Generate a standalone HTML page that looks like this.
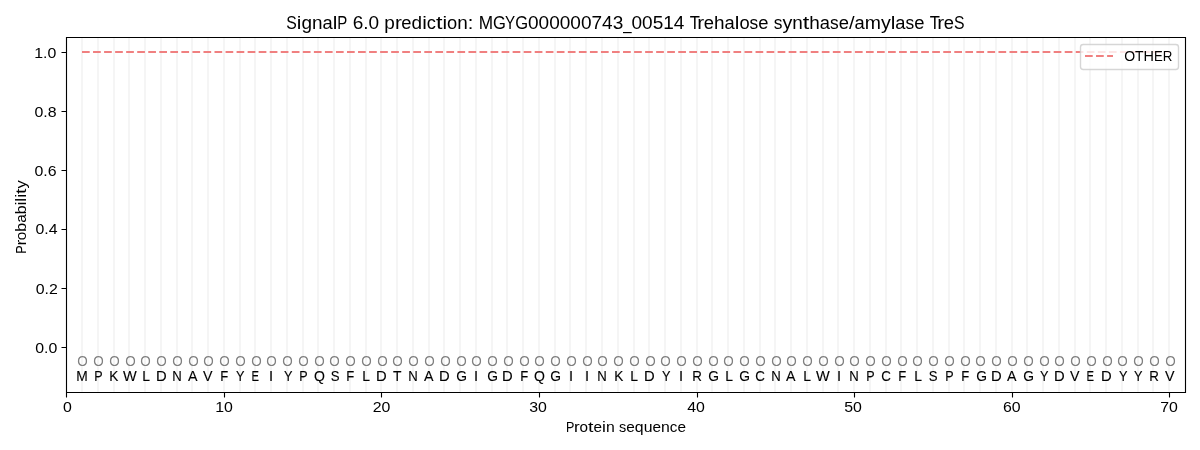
<!DOCTYPE html>
<html><head><meta charset="utf-8"><title>SignalP 6.0 prediction</title>
<style>
html,body{margin:0;padding:0;background:#fff;width:1200px;height:450px;overflow:hidden}
svg{display:block;font-family:"Liberation Sans",sans-serif;will-change:transform}
</style></head>
<body><svg width="1200" height="450" viewBox="0 0 1200 450">
<rect width="1200" height="450" fill="#fff"/>
<path d="M82 37.33V391.72M98 37.33V391.72M114 37.33V391.72M129 37.33V391.72M145 37.33V391.72M161 37.33V391.72M177 37.33V391.72M192 37.33V391.72M208 37.33V391.72M224 37.33V391.72M240 37.33V391.72M255 37.33V391.72M271 37.33V391.72M287 37.33V391.72M303 37.33V391.72M318 37.33V391.72M334 37.33V391.72M350 37.33V391.72M366 37.33V391.72M381 37.33V391.72M397 37.33V391.72M413 37.33V391.72M429 37.33V391.72M444 37.33V391.72M460 37.33V391.72M476 37.33V391.72M492 37.33V391.72M507 37.33V391.72M523 37.33V391.72M539 37.33V391.72M555 37.33V391.72M570 37.33V391.72M586 37.33V391.72M602 37.33V391.72M618 37.33V391.72M634 37.33V391.72M649 37.33V391.72M665 37.33V391.72M681 37.33V391.72M697 37.33V391.72M712 37.33V391.72M728 37.33V391.72M744 37.33V391.72M760 37.33V391.72M775 37.33V391.72M791 37.33V391.72M807 37.33V391.72M823 37.33V391.72M838 37.33V391.72M854 37.33V391.72M870 37.33V391.72M886 37.33V391.72M901 37.33V391.72M917 37.33V391.72M933 37.33V391.72M949 37.33V391.72M964 37.33V391.72M980 37.33V391.72M996 37.33V391.72M1012 37.33V391.72M1027 37.33V391.72M1043 37.33V391.72M1059 37.33V391.72M1075 37.33V391.72M1090 37.33V391.72M1106 37.33V391.72M1122 37.33V391.72M1138 37.33V391.72M1153 37.33V391.72M1169 37.33V391.72" stroke="#f5f5f5" stroke-width="2.0833" fill="none"/>
<path d="M82 52H1169.24" stroke="#f08080" stroke-width="2.0833" stroke-dasharray="7.7083 3.3333" fill="none"/>
<path d="M61.5 52.5H66.5M61.5 111.5H66.5M61.5 170.5H66.5M61.5 229.5H66.5M61.5 288.5H66.5M61.5 347.5H66.5M66.5 392.5V397.5M224.5 392.5V397.5M381.5 392.5V397.5M539.5 392.5V397.5M697.5 392.5V397.5M854.5 392.5V397.5M1012.5 392.5V397.5M1169.5 392.5V397.5" stroke="#000" stroke-width="1.1111" fill="none"/>
<path d="M65.944 36.944H1186.056V393.056H65.944ZM67.056 38.056V391.944H1184.944V38.056Z" fill="#000" fill-rule="evenodd"/>
<rect x="1080.5" y="44.5" width="98" height="25" rx="2.78" ry="2.78" fill="#fff" fill-opacity="0.8" stroke="#ccc" stroke-opacity="0.8" stroke-width="1.3889"/>
<path d="M1085 56H1113" stroke="#f08080" stroke-width="2.0833" stroke-dasharray="7.7083 3.3333" fill="none"/>
<g font-size="17.5" fill="#000"><text x="291.541" y="29" text-anchor="middle" textLength="10.553" lengthAdjust="spacingAndGlyphs">S</text><text x="299.127" y="29" text-anchor="middle" textLength="4.619" lengthAdjust="spacingAndGlyphs">i</text><text x="306.713" y="29" text-anchor="middle" textLength="10.553" lengthAdjust="spacingAndGlyphs">g</text><text x="317.258" y="29" text-anchor="middle" textLength="10.537" lengthAdjust="spacingAndGlyphs">n</text><text x="327.62" y="29" text-anchor="middle" textLength="10.188" lengthAdjust="spacingAndGlyphs">a</text><text x="335.024" y="29" text-anchor="middle" textLength="4.619" lengthAdjust="spacingAndGlyphs">l</text><text x="342.346" y="29" text-anchor="middle" textLength="10.025" lengthAdjust="spacingAndGlyphs">P</text><text x="357.932" y="29" text-anchor="middle" textLength="10.577" lengthAdjust="spacingAndGlyphs">6</text><text x="365.863" y="29" text-anchor="middle" textLength="5.285" lengthAdjust="spacingAndGlyphs">.</text><text x="373.794" y="29" text-anchor="middle" textLength="10.577" lengthAdjust="spacingAndGlyphs">0</text><text x="389.644" y="29" text-anchor="middle" textLength="10.553" lengthAdjust="spacingAndGlyphs">p</text><text x="398.338" y="29" text-anchor="middle" textLength="6.835" lengthAdjust="spacingAndGlyphs">r</text><text x="406.494" y="29" text-anchor="middle" textLength="10.228" lengthAdjust="spacingAndGlyphs">e</text><text x="416.885" y="29" text-anchor="middle" textLength="10.553" lengthAdjust="spacingAndGlyphs">d</text><text x="424.471" y="29" text-anchor="middle" textLength="4.619" lengthAdjust="spacingAndGlyphs">i</text><text x="431.351" y="29" text-anchor="middle" textLength="9.141" lengthAdjust="spacingAndGlyphs">c</text><text x="439.18" y="29" text-anchor="middle" textLength="6.518" lengthAdjust="spacingAndGlyphs">t</text><text x="444.749" y="29" text-anchor="middle" textLength="4.619" lengthAdjust="spacingAndGlyphs">i</text><text x="452.144" y="29" text-anchor="middle" textLength="10.171" lengthAdjust="spacingAndGlyphs">o</text><text x="462.498" y="29" text-anchor="middle" textLength="10.537" lengthAdjust="spacingAndGlyphs">n</text><text x="470.567" y="29" text-anchor="middle" textLength="5.601" lengthAdjust="spacingAndGlyphs">:</text><text x="485.824" y="29" text-anchor="middle" textLength="14.344" lengthAdjust="spacingAndGlyphs">M</text><text x="499.438" y="29" text-anchor="middle" textLength="12.883" lengthAdjust="spacingAndGlyphs">G</text><text x="510.082" y="29" text-anchor="middle" textLength="10.155" lengthAdjust="spacingAndGlyphs">Y</text><text x="521.601" y="29" text-anchor="middle" textLength="12.883" lengthAdjust="spacingAndGlyphs">G</text><text x="533.331" y="29" text-anchor="middle" textLength="10.577" lengthAdjust="spacingAndGlyphs">0</text><text x="543.908" y="29" text-anchor="middle" textLength="10.577" lengthAdjust="spacingAndGlyphs">0</text><text x="554.485" y="29" text-anchor="middle" textLength="10.577" lengthAdjust="spacingAndGlyphs">0</text><text x="565.063" y="29" text-anchor="middle" textLength="10.577" lengthAdjust="spacingAndGlyphs">0</text><text x="575.64" y="29" text-anchor="middle" textLength="10.577" lengthAdjust="spacingAndGlyphs">0</text><text x="586.217" y="29" text-anchor="middle" textLength="10.577" lengthAdjust="spacingAndGlyphs">0</text><text x="596.795" y="29" text-anchor="middle" textLength="10.577" lengthAdjust="spacingAndGlyphs">7</text><text x="607.372" y="29" text-anchor="middle" textLength="10.577" lengthAdjust="spacingAndGlyphs">4</text><text x="617.949" y="29" text-anchor="middle" textLength="10.577" lengthAdjust="spacingAndGlyphs">3</text><text x="627.394" y="29" text-anchor="middle" textLength="8.312" lengthAdjust="spacingAndGlyphs">_</text><text x="636.839" y="29" text-anchor="middle" textLength="10.577" lengthAdjust="spacingAndGlyphs">0</text><text x="647.416" y="29" text-anchor="middle" textLength="10.577" lengthAdjust="spacingAndGlyphs">0</text><text x="657.994" y="29" text-anchor="middle" textLength="10.577" lengthAdjust="spacingAndGlyphs">5</text><text x="668.571" y="29" text-anchor="middle" textLength="10.577" lengthAdjust="spacingAndGlyphs">1</text><text x="679.148" y="29" text-anchor="middle" textLength="10.577" lengthAdjust="spacingAndGlyphs">4</text><text x="694.799" y="29" text-anchor="middle" textLength="10.155" lengthAdjust="spacingAndGlyphs">T</text><text x="700.794" y="29" text-anchor="middle" textLength="6.835" lengthAdjust="spacingAndGlyphs">r</text><text x="708.951" y="29" text-anchor="middle" textLength="10.228" lengthAdjust="spacingAndGlyphs">e</text><text x="719.334" y="29" text-anchor="middle" textLength="10.537" lengthAdjust="spacingAndGlyphs">h</text><text x="729.696" y="29" text-anchor="middle" textLength="10.188" lengthAdjust="spacingAndGlyphs">a</text><text x="737.099" y="29" text-anchor="middle" textLength="4.619" lengthAdjust="spacingAndGlyphs">l</text><text x="744.494" y="29" text-anchor="middle" textLength="10.171" lengthAdjust="spacingAndGlyphs">o</text><text x="753.911" y="29" text-anchor="middle" textLength="8.662" lengthAdjust="spacingAndGlyphs">s</text><text x="763.356" y="29" text-anchor="middle" textLength="10.228" lengthAdjust="spacingAndGlyphs">e</text><text x="778.085" y="29" text-anchor="middle" textLength="8.662" lengthAdjust="spacingAndGlyphs">s</text><text x="787.335" y="29" text-anchor="middle" textLength="9.839" lengthAdjust="spacingAndGlyphs">y</text><text x="797.523" y="29" text-anchor="middle" textLength="10.537" lengthAdjust="spacingAndGlyphs">n</text><text x="806.051" y="29" text-anchor="middle" textLength="6.518" lengthAdjust="spacingAndGlyphs">t</text><text x="814.578" y="29" text-anchor="middle" textLength="10.537" lengthAdjust="spacingAndGlyphs">h</text><text x="824.941" y="29" text-anchor="middle" textLength="10.188" lengthAdjust="spacingAndGlyphs">a</text><text x="834.365" y="29" text-anchor="middle" textLength="8.662" lengthAdjust="spacingAndGlyphs">s</text><text x="843.81" y="29" text-anchor="middle" textLength="10.228" lengthAdjust="spacingAndGlyphs">e</text><text x="851.725" y="29" text-anchor="middle" textLength="5.601" lengthAdjust="spacingAndGlyphs">/</text><text x="859.619" y="29" text-anchor="middle" textLength="10.188" lengthAdjust="spacingAndGlyphs">a</text><text x="872.811" y="29" text-anchor="middle" textLength="16.195" lengthAdjust="spacingAndGlyphs">m</text><text x="885.827" y="29" text-anchor="middle" textLength="9.839" lengthAdjust="spacingAndGlyphs">y</text><text x="893.056" y="29" text-anchor="middle" textLength="4.619" lengthAdjust="spacingAndGlyphs">l</text><text x="900.459" y="29" text-anchor="middle" textLength="10.188" lengthAdjust="spacingAndGlyphs">a</text><text x="909.884" y="29" text-anchor="middle" textLength="8.662" lengthAdjust="spacingAndGlyphs">s</text><text x="919.329" y="29" text-anchor="middle" textLength="10.228" lengthAdjust="spacingAndGlyphs">e</text><text x="934.805" y="29" text-anchor="middle" textLength="10.155" lengthAdjust="spacingAndGlyphs">T</text><text x="940.8" y="29" text-anchor="middle" textLength="6.835" lengthAdjust="spacingAndGlyphs">r</text><text x="948.957" y="29" text-anchor="middle" textLength="10.228" lengthAdjust="spacingAndGlyphs">e</text><text x="959.348" y="29" text-anchor="middle" textLength="10.553" lengthAdjust="spacingAndGlyphs">S</text></g>
<g transform="translate(26 253.72) rotate(-90)" font-size="14.2" fill="#000"><text x="4.184" y="0" text-anchor="middle" textLength="8.367" lengthAdjust="spacingAndGlyphs">P</text><text x="10.969" y="0" text-anchor="middle" textLength="5.704" lengthAdjust="spacingAndGlyphs">r</text><text x="17.816" y="0" text-anchor="middle" textLength="8.489" lengthAdjust="spacingAndGlyphs">o</text><text x="26.464" y="0" text-anchor="middle" textLength="8.807" lengthAdjust="spacingAndGlyphs">b</text><text x="35.119" y="0" text-anchor="middle" textLength="8.503" lengthAdjust="spacingAndGlyphs">a</text><text x="43.774" y="0" text-anchor="middle" textLength="8.807" lengthAdjust="spacingAndGlyphs">b</text><text x="50.105" y="0" text-anchor="middle" textLength="3.855" lengthAdjust="spacingAndGlyphs">i</text><text x="53.96" y="0" text-anchor="middle" textLength="3.855" lengthAdjust="spacingAndGlyphs">l</text><text x="57.815" y="0" text-anchor="middle" textLength="3.855" lengthAdjust="spacingAndGlyphs">i</text><text x="62.463" y="0" text-anchor="middle" textLength="5.44" lengthAdjust="spacingAndGlyphs">t</text><text x="69.288" y="0" text-anchor="middle" textLength="8.211" lengthAdjust="spacingAndGlyphs">y</text></g>
<g font-size="14.2" fill="#000"><text x="570.194" y="432" text-anchor="middle" textLength="8.367" lengthAdjust="spacingAndGlyphs">P</text><text x="576.979" y="432" text-anchor="middle" textLength="5.704" lengthAdjust="spacingAndGlyphs">r</text><text x="583.826" y="432" text-anchor="middle" textLength="8.489" lengthAdjust="spacingAndGlyphs">o</text><text x="590.791" y="432" text-anchor="middle" textLength="5.44" lengthAdjust="spacingAndGlyphs">t</text><text x="597.779" y="432" text-anchor="middle" textLength="8.536" lengthAdjust="spacingAndGlyphs">e</text><text x="603.975" y="432" text-anchor="middle" textLength="3.855" lengthAdjust="spacingAndGlyphs">i</text><text x="610.299" y="432" text-anchor="middle" textLength="8.794" lengthAdjust="spacingAndGlyphs">n</text><text x="622.721" y="432" text-anchor="middle" textLength="7.229" lengthAdjust="spacingAndGlyphs">s</text><text x="630.603" y="432" text-anchor="middle" textLength="8.536" lengthAdjust="spacingAndGlyphs">e</text><text x="639.275" y="432" text-anchor="middle" textLength="8.807" lengthAdjust="spacingAndGlyphs">q</text><text x="648.076" y="432" text-anchor="middle" textLength="8.794" lengthAdjust="spacingAndGlyphs">u</text><text x="656.741" y="432" text-anchor="middle" textLength="8.536" lengthAdjust="spacingAndGlyphs">e</text><text x="665.406" y="432" text-anchor="middle" textLength="8.794" lengthAdjust="spacingAndGlyphs">n</text><text x="673.617" y="432" text-anchor="middle" textLength="7.629" lengthAdjust="spacingAndGlyphs">c</text><text x="681.7" y="432" text-anchor="middle" textLength="8.536" lengthAdjust="spacingAndGlyphs">e</text></g>
<g font-size="14.2" fill="#000"><text x="39.594" y="353" text-anchor="middle" textLength="8.828" lengthAdjust="spacingAndGlyphs">0</text><text x="46.213" y="353" text-anchor="middle" textLength="4.41" lengthAdjust="spacingAndGlyphs">.</text><text x="52.832" y="353" text-anchor="middle" textLength="8.828" lengthAdjust="spacingAndGlyphs">0</text></g>
<g font-size="14.2" fill="#000"><text x="40.094" y="294" text-anchor="middle" textLength="8.828" lengthAdjust="spacingAndGlyphs">0</text><text x="46.713" y="294" text-anchor="middle" textLength="4.41" lengthAdjust="spacingAndGlyphs">.</text><text x="53.332" y="294" text-anchor="middle" textLength="8.828" lengthAdjust="spacingAndGlyphs">2</text></g>
<g font-size="14.2" fill="#000"><text x="39.844" y="234" text-anchor="middle" textLength="8.828" lengthAdjust="spacingAndGlyphs">0</text><text x="46.463" y="234" text-anchor="middle" textLength="4.41" lengthAdjust="spacingAndGlyphs">.</text><text x="53.082" y="234" text-anchor="middle" textLength="8.828" lengthAdjust="spacingAndGlyphs">4</text></g>
<g font-size="14.2" fill="#000"><text x="38.849" y="176" text-anchor="middle" textLength="8.828" lengthAdjust="spacingAndGlyphs">0</text><text x="45.468" y="176" text-anchor="middle" textLength="4.41" lengthAdjust="spacingAndGlyphs">.</text><text x="52.087" y="176" text-anchor="middle" textLength="8.828" lengthAdjust="spacingAndGlyphs">6</text></g>
<g font-size="14.2" fill="#000"><text x="38.849" y="117" text-anchor="middle" textLength="8.828" lengthAdjust="spacingAndGlyphs">0</text><text x="45.468" y="117" text-anchor="middle" textLength="4.41" lengthAdjust="spacingAndGlyphs">.</text><text x="52.087" y="117" text-anchor="middle" textLength="8.828" lengthAdjust="spacingAndGlyphs">8</text></g>
<g font-size="14.2" fill="#000"><text x="38.599" y="58" text-anchor="middle" textLength="8.828" lengthAdjust="spacingAndGlyphs">1</text><text x="45.218" y="58" text-anchor="middle" textLength="4.41" lengthAdjust="spacingAndGlyphs">.</text><text x="51.837" y="58" text-anchor="middle" textLength="8.828" lengthAdjust="spacingAndGlyphs">0</text></g>
<g font-size="14.2" fill="#000"><text x="67.314" y="412" text-anchor="middle" textLength="8.828" lengthAdjust="spacingAndGlyphs">0</text></g>
<g font-size="14.2" fill="#000"><text x="219.569" y="412" text-anchor="middle" textLength="8.828" lengthAdjust="spacingAndGlyphs">1</text><text x="228.397" y="412" text-anchor="middle" textLength="8.828" lengthAdjust="spacingAndGlyphs">0</text></g>
<g font-size="14.2" fill="#000"><text x="377.074" y="412" text-anchor="middle" textLength="8.828" lengthAdjust="spacingAndGlyphs">2</text><text x="385.902" y="412" text-anchor="middle" textLength="8.828" lengthAdjust="spacingAndGlyphs">0</text></g>
<g font-size="14.2" fill="#000"><text x="533.644" y="412" text-anchor="middle" textLength="8.828" lengthAdjust="spacingAndGlyphs">3</text><text x="542.472" y="412" text-anchor="middle" textLength="8.828" lengthAdjust="spacingAndGlyphs">0</text></g>
<g font-size="14.2" fill="#000"><text x="691.579" y="412" text-anchor="middle" textLength="8.828" lengthAdjust="spacingAndGlyphs">4</text><text x="700.407" y="412" text-anchor="middle" textLength="8.828" lengthAdjust="spacingAndGlyphs">0</text></g>
<g font-size="14.2" fill="#000"><text x="848.649" y="412" text-anchor="middle" textLength="8.828" lengthAdjust="spacingAndGlyphs">5</text><text x="857.477" y="412" text-anchor="middle" textLength="8.828" lengthAdjust="spacingAndGlyphs">0</text></g>
<g font-size="14.2" fill="#000"><text x="1007.399" y="412" text-anchor="middle" textLength="8.828" lengthAdjust="spacingAndGlyphs">6</text><text x="1016.227" y="412" text-anchor="middle" textLength="8.828" lengthAdjust="spacingAndGlyphs">0</text></g>
<g font-size="14.2" fill="#000"><text x="1164.654" y="412" text-anchor="middle" textLength="8.828" lengthAdjust="spacingAndGlyphs">7</text><text x="1173.482" y="412" text-anchor="middle" textLength="8.828" lengthAdjust="spacingAndGlyphs">0</text></g>
<g font-size="14.2" fill="#000"><text x="1129.591" y="61" text-anchor="middle" textLength="10.921" lengthAdjust="spacingAndGlyphs">O</text><text x="1139.289" y="61" text-anchor="middle" textLength="8.475" lengthAdjust="spacingAndGlyphs">T</text><text x="1148.743" y="61" text-anchor="middle" textLength="10.433" lengthAdjust="spacingAndGlyphs">H</text><text x="1158.343" y="61" text-anchor="middle" textLength="8.767" lengthAdjust="spacingAndGlyphs">E</text><text x="1167.547" y="61" text-anchor="middle" textLength="9.641" lengthAdjust="spacingAndGlyphs">R</text></g>
<text x="82.047" y="381" text-anchor="middle" font-size="14.2" fill="#000" textLength="11.5" lengthAdjust="spacingAndGlyphs" stroke="#000" stroke-width="0.12">M</text>
<text x="82.407" y="366" text-anchor="middle" font-size="14.2" fill="#808080" textLength="10.5" lengthAdjust="spacingAndGlyphs">O</text>
<text x="98.415" y="381" text-anchor="middle" font-size="14.2" fill="#000" textLength="8.367" lengthAdjust="spacingAndGlyphs" stroke="#000" stroke-width="0.12">P</text>
<text x="98.407" y="366" text-anchor="middle" font-size="14.2" fill="#808080" textLength="10.5" lengthAdjust="spacingAndGlyphs">O</text>
<text x="113.675" y="381" text-anchor="middle" font-size="14.2" fill="#000" textLength="9.099" lengthAdjust="spacingAndGlyphs" stroke="#000" stroke-width="0.12">K</text>
<text x="114.407" y="366" text-anchor="middle" font-size="14.2" fill="#808080" textLength="10.5" lengthAdjust="spacingAndGlyphs">O</text>
<text x="129.805" y="381" text-anchor="middle" font-size="14.2" fill="#000" textLength="13.719" lengthAdjust="spacingAndGlyphs" stroke="#000" stroke-width="0.12">W</text>
<text x="130.407" y="366" text-anchor="middle" font-size="14.2" fill="#808080" textLength="10.5" lengthAdjust="spacingAndGlyphs">O</text>
<text x="146.065" y="381" text-anchor="middle" font-size="14.2" fill="#000" textLength="7.73" lengthAdjust="spacingAndGlyphs" stroke="#000" stroke-width="0.12">L</text>
<text x="145.407" y="366" text-anchor="middle" font-size="14.2" fill="#808080" textLength="10.5" lengthAdjust="spacingAndGlyphs">O</text>
<text x="161.315" y="381" text-anchor="middle" font-size="14.2" fill="#000" textLength="10.684" lengthAdjust="spacingAndGlyphs" stroke="#000" stroke-width="0.12">D</text>
<text x="161.407" y="366" text-anchor="middle" font-size="14.2" fill="#808080" textLength="10.5" lengthAdjust="spacingAndGlyphs">O</text>
<text x="177.122" y="381" text-anchor="middle" font-size="14.2" fill="#000" textLength="9.5" lengthAdjust="spacingAndGlyphs" stroke="#000" stroke-width="0.12">N</text>
<text x="177.407" y="366" text-anchor="middle" font-size="14.2" fill="#808080" textLength="10.5" lengthAdjust="spacingAndGlyphs">O</text>
<text x="192.705" y="381" text-anchor="middle" font-size="14.2" fill="#000" textLength="9.492" lengthAdjust="spacingAndGlyphs" stroke="#000" stroke-width="0.12">A</text>
<text x="193.407" y="366" text-anchor="middle" font-size="14.2" fill="#808080" textLength="10.5" lengthAdjust="spacingAndGlyphs">O</text>
<text x="207.715" y="381" text-anchor="middle" font-size="14.2" fill="#000" textLength="9.492" lengthAdjust="spacingAndGlyphs" stroke="#000" stroke-width="0.12">V</text>
<text x="208.407" y="366" text-anchor="middle" font-size="14.2" fill="#808080" textLength="10.5" lengthAdjust="spacingAndGlyphs">O</text>
<text x="224.215" y="381" text-anchor="middle" font-size="14.2" fill="#000" textLength="7.981" lengthAdjust="spacingAndGlyphs" stroke="#000" stroke-width="0.12">F</text>
<text x="224.407" y="366" text-anchor="middle" font-size="14.2" fill="#808080" textLength="10.5" lengthAdjust="spacingAndGlyphs">O</text>
<text x="240.225" y="381" text-anchor="middle" font-size="14.2" fill="#000" textLength="8.475" lengthAdjust="spacingAndGlyphs" stroke="#000" stroke-width="0.12">Y</text>
<text x="240.407" y="366" text-anchor="middle" font-size="14.2" fill="#808080" textLength="10.5" lengthAdjust="spacingAndGlyphs">O</text>
<text x="255.229" y="381" text-anchor="middle" font-size="14.2" fill="#000" textLength="7.5" lengthAdjust="spacingAndGlyphs" stroke="#000" stroke-width="0.12">E</text>
<text x="256.407" y="366" text-anchor="middle" font-size="14.2" fill="#808080" textLength="10.5" lengthAdjust="spacingAndGlyphs">O</text>
<text x="270.985" y="381" text-anchor="middle" font-size="14.2" fill="#000" textLength="4.092" lengthAdjust="spacingAndGlyphs" stroke="#000" stroke-width="0.12">I</text>
<text x="271.407" y="366" text-anchor="middle" font-size="14.2" fill="#808080" textLength="10.5" lengthAdjust="spacingAndGlyphs">O</text>
<text x="288.12" y="381" text-anchor="middle" font-size="14.2" fill="#000" textLength="8.475" lengthAdjust="spacingAndGlyphs" stroke="#000" stroke-width="0.12">Y</text>
<text x="287.407" y="366" text-anchor="middle" font-size="14.2" fill="#808080" textLength="10.5" lengthAdjust="spacingAndGlyphs">O</text>
<text x="303.38" y="381" text-anchor="middle" font-size="14.2" fill="#000" textLength="8.367" lengthAdjust="spacingAndGlyphs" stroke="#000" stroke-width="0.12">P</text>
<text x="303.407" y="366" text-anchor="middle" font-size="14.2" fill="#808080" textLength="10.5" lengthAdjust="spacingAndGlyphs">O</text>
<text x="319.385" y="381" text-anchor="middle" font-size="14.2" fill="#000" textLength="10.921" lengthAdjust="spacingAndGlyphs" stroke="#000" stroke-width="0.12">Q</text>
<text x="319.407" y="366" text-anchor="middle" font-size="14.2" fill="#808080" textLength="10.5" lengthAdjust="spacingAndGlyphs">O</text>
<text x="335.145" y="381" text-anchor="middle" font-size="14.2" fill="#000" textLength="8.807" lengthAdjust="spacingAndGlyphs" stroke="#000" stroke-width="0.12">S</text>
<text x="334.407" y="366" text-anchor="middle" font-size="14.2" fill="#808080" textLength="10.5" lengthAdjust="spacingAndGlyphs">O</text>
<text x="350.15" y="381" text-anchor="middle" font-size="14.2" fill="#000" textLength="7.981" lengthAdjust="spacingAndGlyphs" stroke="#000" stroke-width="0.12">F</text>
<text x="350.407" y="366" text-anchor="middle" font-size="14.2" fill="#808080" textLength="10.5" lengthAdjust="spacingAndGlyphs">O</text>
<text x="366.03" y="381" text-anchor="middle" font-size="14.2" fill="#000" textLength="7.73" lengthAdjust="spacingAndGlyphs" stroke="#000" stroke-width="0.12">L</text>
<text x="366.407" y="366" text-anchor="middle" font-size="14.2" fill="#808080" textLength="10.5" lengthAdjust="spacingAndGlyphs">O</text>
<text x="381.29" y="381" text-anchor="middle" font-size="14.2" fill="#000" textLength="10.684" lengthAdjust="spacingAndGlyphs" stroke="#000" stroke-width="0.12">D</text>
<text x="382.407" y="366" text-anchor="middle" font-size="14.2" fill="#808080" textLength="10.5" lengthAdjust="spacingAndGlyphs">O</text>
<text x="397.17" y="381" text-anchor="middle" font-size="14.2" fill="#000" textLength="8.475" lengthAdjust="spacingAndGlyphs" stroke="#000" stroke-width="0.12">T</text>
<text x="397.407" y="366" text-anchor="middle" font-size="14.2" fill="#808080" textLength="10.5" lengthAdjust="spacingAndGlyphs">O</text>
<text x="413.122" y="381" text-anchor="middle" font-size="14.2" fill="#000" textLength="9.5" lengthAdjust="spacingAndGlyphs" stroke="#000" stroke-width="0.12">N</text>
<text x="413.407" y="366" text-anchor="middle" font-size="14.2" fill="#808080" textLength="10.5" lengthAdjust="spacingAndGlyphs">O</text>
<text x="428.68" y="381" text-anchor="middle" font-size="14.2" fill="#000" textLength="9.492" lengthAdjust="spacingAndGlyphs" stroke="#000" stroke-width="0.12">A</text>
<text x="429.407" y="366" text-anchor="middle" font-size="14.2" fill="#808080" textLength="10.5" lengthAdjust="spacingAndGlyphs">O</text>
<text x="444.31" y="381" text-anchor="middle" font-size="14.2" fill="#000" textLength="10.684" lengthAdjust="spacingAndGlyphs" stroke="#000" stroke-width="0.12">D</text>
<text x="445.407" y="366" text-anchor="middle" font-size="14.2" fill="#808080" textLength="10.5" lengthAdjust="spacingAndGlyphs">O</text>
<text x="461.57" y="381" text-anchor="middle" font-size="14.2" fill="#000" textLength="10.752" lengthAdjust="spacingAndGlyphs" stroke="#000" stroke-width="0.12">G</text>
<text x="461.407" y="366" text-anchor="middle" font-size="14.2" fill="#808080" textLength="10.5" lengthAdjust="spacingAndGlyphs">O</text>
<text x="475.95" y="381" text-anchor="middle" font-size="14.2" fill="#000" textLength="4.092" lengthAdjust="spacingAndGlyphs" stroke="#000" stroke-width="0.12">I</text>
<text x="476.407" y="366" text-anchor="middle" font-size="14.2" fill="#808080" textLength="10.5" lengthAdjust="spacingAndGlyphs">O</text>
<text x="492.58" y="381" text-anchor="middle" font-size="14.2" fill="#000" textLength="10.752" lengthAdjust="spacingAndGlyphs" stroke="#000" stroke-width="0.12">G</text>
<text x="492.407" y="366" text-anchor="middle" font-size="14.2" fill="#808080" textLength="10.5" lengthAdjust="spacingAndGlyphs">O</text>
<text x="507.34" y="381" text-anchor="middle" font-size="14.2" fill="#000" textLength="10.684" lengthAdjust="spacingAndGlyphs" stroke="#000" stroke-width="0.12">D</text>
<text x="508.407" y="366" text-anchor="middle" font-size="14.2" fill="#808080" textLength="10.5" lengthAdjust="spacingAndGlyphs">O</text>
<text x="524.22" y="381" text-anchor="middle" font-size="14.2" fill="#000" textLength="7.981" lengthAdjust="spacingAndGlyphs" stroke="#000" stroke-width="0.12">F</text>
<text x="524.407" y="366" text-anchor="middle" font-size="14.2" fill="#808080" textLength="10.5" lengthAdjust="spacingAndGlyphs">O</text>
<text x="539.35" y="381" text-anchor="middle" font-size="14.2" fill="#000" textLength="10.921" lengthAdjust="spacingAndGlyphs" stroke="#000" stroke-width="0.12">Q</text>
<text x="539.407" y="366" text-anchor="middle" font-size="14.2" fill="#808080" textLength="10.5" lengthAdjust="spacingAndGlyphs">O</text>
<text x="555.61" y="381" text-anchor="middle" font-size="14.2" fill="#000" textLength="10.752" lengthAdjust="spacingAndGlyphs" stroke="#000" stroke-width="0.12">G</text>
<text x="555.407" y="366" text-anchor="middle" font-size="14.2" fill="#808080" textLength="10.5" lengthAdjust="spacingAndGlyphs">O</text>
<text x="570.99" y="381" text-anchor="middle" font-size="14.2" fill="#000" textLength="4.092" lengthAdjust="spacingAndGlyphs" stroke="#000" stroke-width="0.12">I</text>
<text x="571.407" y="366" text-anchor="middle" font-size="14.2" fill="#808080" textLength="10.5" lengthAdjust="spacingAndGlyphs">O</text>
<text x="587" y="381" text-anchor="middle" font-size="14.2" fill="#000" textLength="4.092" lengthAdjust="spacingAndGlyphs" stroke="#000" stroke-width="0.12">I</text>
<text x="587.407" y="366" text-anchor="middle" font-size="14.2" fill="#808080" textLength="10.5" lengthAdjust="spacingAndGlyphs">O</text>
<text x="602.122" y="381" text-anchor="middle" font-size="14.2" fill="#000" textLength="9.5" lengthAdjust="spacingAndGlyphs" stroke="#000" stroke-width="0.12">N</text>
<text x="602.407" y="366" text-anchor="middle" font-size="14.2" fill="#808080" textLength="10.5" lengthAdjust="spacingAndGlyphs">O</text>
<text x="618.76" y="381" text-anchor="middle" font-size="14.2" fill="#000" textLength="9.099" lengthAdjust="spacingAndGlyphs" stroke="#000" stroke-width="0.12">K</text>
<text x="618.407" y="366" text-anchor="middle" font-size="14.2" fill="#808080" textLength="10.5" lengthAdjust="spacingAndGlyphs">O</text>
<text x="634.015" y="381" text-anchor="middle" font-size="14.2" fill="#000" textLength="7.73" lengthAdjust="spacingAndGlyphs" stroke="#000" stroke-width="0.12">L</text>
<text x="634.407" y="366" text-anchor="middle" font-size="14.2" fill="#808080" textLength="10.5" lengthAdjust="spacingAndGlyphs">O</text>
<text x="649.275" y="381" text-anchor="middle" font-size="14.2" fill="#000" textLength="10.684" lengthAdjust="spacingAndGlyphs" stroke="#000" stroke-width="0.12">D</text>
<text x="650.407" y="366" text-anchor="middle" font-size="14.2" fill="#808080" textLength="10.5" lengthAdjust="spacingAndGlyphs">O</text>
<text x="666.155" y="381" text-anchor="middle" font-size="14.2" fill="#000" textLength="8.475" lengthAdjust="spacingAndGlyphs" stroke="#000" stroke-width="0.12">Y</text>
<text x="665.407" y="366" text-anchor="middle" font-size="14.2" fill="#808080" textLength="10.5" lengthAdjust="spacingAndGlyphs">O</text>
<text x="681.04" y="381" text-anchor="middle" font-size="14.2" fill="#000" textLength="4.092" lengthAdjust="spacingAndGlyphs" stroke="#000" stroke-width="0.12">I</text>
<text x="681.407" y="366" text-anchor="middle" font-size="14.2" fill="#808080" textLength="10.5" lengthAdjust="spacingAndGlyphs">O</text>
<text x="697.045" y="381" text-anchor="middle" font-size="14.2" fill="#000" textLength="9.641" lengthAdjust="spacingAndGlyphs" stroke="#000" stroke-width="0.12">R</text>
<text x="697.407" y="366" text-anchor="middle" font-size="14.2" fill="#808080" textLength="10.5" lengthAdjust="spacingAndGlyphs">O</text>
<text x="713.555" y="381" text-anchor="middle" font-size="14.2" fill="#000" textLength="10.752" lengthAdjust="spacingAndGlyphs" stroke="#000" stroke-width="0.12">G</text>
<text x="713.407" y="366" text-anchor="middle" font-size="14.2" fill="#808080" textLength="10.5" lengthAdjust="spacingAndGlyphs">O</text>
<text x="729.055" y="381" text-anchor="middle" font-size="14.2" fill="#000" textLength="7.73" lengthAdjust="spacingAndGlyphs" stroke="#000" stroke-width="0.12">L</text>
<text x="728.407" y="366" text-anchor="middle" font-size="14.2" fill="#808080" textLength="10.5" lengthAdjust="spacingAndGlyphs">O</text>
<text x="744.565" y="381" text-anchor="middle" font-size="14.2" fill="#000" textLength="10.752" lengthAdjust="spacingAndGlyphs" stroke="#000" stroke-width="0.12">G</text>
<text x="744.407" y="366" text-anchor="middle" font-size="14.2" fill="#808080" textLength="10.5" lengthAdjust="spacingAndGlyphs">O</text>
<text x="760.075" y="381" text-anchor="middle" font-size="14.2" fill="#000" textLength="9.688" lengthAdjust="spacingAndGlyphs" stroke="#000" stroke-width="0.12">C</text>
<text x="760.407" y="366" text-anchor="middle" font-size="14.2" fill="#808080" textLength="10.5" lengthAdjust="spacingAndGlyphs">O</text>
<text x="776.122" y="381" text-anchor="middle" font-size="14.2" fill="#000" textLength="9.5" lengthAdjust="spacingAndGlyphs" stroke="#000" stroke-width="0.12">N</text>
<text x="776.407" y="366" text-anchor="middle" font-size="14.2" fill="#808080" textLength="10.5" lengthAdjust="spacingAndGlyphs">O</text>
<text x="790.705" y="381" text-anchor="middle" font-size="14.2" fill="#000" textLength="9.492" lengthAdjust="spacingAndGlyphs" stroke="#000" stroke-width="0.12">A</text>
<text x="791.407" y="366" text-anchor="middle" font-size="14.2" fill="#808080" textLength="10.5" lengthAdjust="spacingAndGlyphs">O</text>
<text x="807.095" y="381" text-anchor="middle" font-size="14.2" fill="#000" textLength="7.73" lengthAdjust="spacingAndGlyphs" stroke="#000" stroke-width="0.12">L</text>
<text x="807.407" y="366" text-anchor="middle" font-size="14.2" fill="#808080" textLength="10.5" lengthAdjust="spacingAndGlyphs">O</text>
<text x="822.845" y="381" text-anchor="middle" font-size="14.2" fill="#000" textLength="13.719" lengthAdjust="spacingAndGlyphs" stroke="#000" stroke-width="0.12">W</text>
<text x="823.407" y="366" text-anchor="middle" font-size="14.2" fill="#808080" textLength="10.5" lengthAdjust="spacingAndGlyphs">O</text>
<text x="838.975" y="381" text-anchor="middle" font-size="14.2" fill="#000" textLength="4.092" lengthAdjust="spacingAndGlyphs" stroke="#000" stroke-width="0.12">I</text>
<text x="839.407" y="366" text-anchor="middle" font-size="14.2" fill="#808080" textLength="10.5" lengthAdjust="spacingAndGlyphs">O</text>
<text x="854.122" y="381" text-anchor="middle" font-size="14.2" fill="#000" textLength="9.5" lengthAdjust="spacingAndGlyphs" stroke="#000" stroke-width="0.12">N</text>
<text x="854.407" y="366" text-anchor="middle" font-size="14.2" fill="#808080" textLength="10.5" lengthAdjust="spacingAndGlyphs">O</text>
<text x="870.365" y="381" text-anchor="middle" font-size="14.2" fill="#000" textLength="8.367" lengthAdjust="spacingAndGlyphs" stroke="#000" stroke-width="0.12">P</text>
<text x="870.407" y="366" text-anchor="middle" font-size="14.2" fill="#808080" textLength="10.5" lengthAdjust="spacingAndGlyphs">O</text>
<text x="886" y="381" text-anchor="middle" font-size="14.2" fill="#000" textLength="9.688" lengthAdjust="spacingAndGlyphs" stroke="#000" stroke-width="0.12">C</text>
<text x="886.407" y="366" text-anchor="middle" font-size="14.2" fill="#808080" textLength="10.5" lengthAdjust="spacingAndGlyphs">O</text>
<text x="902.13" y="381" text-anchor="middle" font-size="14.2" fill="#000" textLength="7.981" lengthAdjust="spacingAndGlyphs" stroke="#000" stroke-width="0.12">F</text>
<text x="902.407" y="366" text-anchor="middle" font-size="14.2" fill="#808080" textLength="10.5" lengthAdjust="spacingAndGlyphs">O</text>
<text x="918.01" y="381" text-anchor="middle" font-size="14.2" fill="#000" textLength="7.73" lengthAdjust="spacingAndGlyphs" stroke="#000" stroke-width="0.12">L</text>
<text x="917.407" y="366" text-anchor="middle" font-size="14.2" fill="#808080" textLength="10.5" lengthAdjust="spacingAndGlyphs">O</text>
<text x="933.145" y="381" text-anchor="middle" font-size="14.2" fill="#000" textLength="8.807" lengthAdjust="spacingAndGlyphs" stroke="#000" stroke-width="0.12">S</text>
<text x="933.407" y="366" text-anchor="middle" font-size="14.2" fill="#808080" textLength="10.5" lengthAdjust="spacingAndGlyphs">O</text>
<text x="949.4" y="381" text-anchor="middle" font-size="14.2" fill="#000" textLength="8.367" lengthAdjust="spacingAndGlyphs" stroke="#000" stroke-width="0.12">P</text>
<text x="949.407" y="366" text-anchor="middle" font-size="14.2" fill="#808080" textLength="10.5" lengthAdjust="spacingAndGlyphs">O</text>
<text x="965.16" y="381" text-anchor="middle" font-size="14.2" fill="#000" textLength="7.981" lengthAdjust="spacingAndGlyphs" stroke="#000" stroke-width="0.12">F</text>
<text x="965.407" y="366" text-anchor="middle" font-size="14.2" fill="#808080" textLength="10.5" lengthAdjust="spacingAndGlyphs">O</text>
<text x="981.54" y="381" text-anchor="middle" font-size="14.2" fill="#000" textLength="10.752" lengthAdjust="spacingAndGlyphs" stroke="#000" stroke-width="0.12">G</text>
<text x="980.407" y="366" text-anchor="middle" font-size="14.2" fill="#808080" textLength="10.5" lengthAdjust="spacingAndGlyphs">O</text>
<text x="996.3" y="381" text-anchor="middle" font-size="14.2" fill="#000" textLength="10.684" lengthAdjust="spacingAndGlyphs" stroke="#000" stroke-width="0.12">D</text>
<text x="996.407" y="366" text-anchor="middle" font-size="14.2" fill="#808080" textLength="10.5" lengthAdjust="spacingAndGlyphs">O</text>
<text x="1011.68" y="381" text-anchor="middle" font-size="14.2" fill="#000" textLength="9.492" lengthAdjust="spacingAndGlyphs" stroke="#000" stroke-width="0.12">A</text>
<text x="1012.407" y="366" text-anchor="middle" font-size="14.2" fill="#808080" textLength="10.5" lengthAdjust="spacingAndGlyphs">O</text>
<text x="1028.56" y="381" text-anchor="middle" font-size="14.2" fill="#000" textLength="10.752" lengthAdjust="spacingAndGlyphs" stroke="#000" stroke-width="0.12">G</text>
<text x="1028.407" y="366" text-anchor="middle" font-size="14.2" fill="#808080" textLength="10.5" lengthAdjust="spacingAndGlyphs">O</text>
<text x="1044.19" y="381" text-anchor="middle" font-size="14.2" fill="#000" textLength="8.475" lengthAdjust="spacingAndGlyphs" stroke="#000" stroke-width="0.12">Y</text>
<text x="1044.407" y="366" text-anchor="middle" font-size="14.2" fill="#808080" textLength="10.5" lengthAdjust="spacingAndGlyphs">O</text>
<text x="1059.32" y="381" text-anchor="middle" font-size="14.2" fill="#000" textLength="10.684" lengthAdjust="spacingAndGlyphs" stroke="#000" stroke-width="0.12">D</text>
<text x="1059.407" y="366" text-anchor="middle" font-size="14.2" fill="#808080" textLength="10.5" lengthAdjust="spacingAndGlyphs">O</text>
<text x="1074.7" y="381" text-anchor="middle" font-size="14.2" fill="#000" textLength="9.492" lengthAdjust="spacingAndGlyphs" stroke="#000" stroke-width="0.12">V</text>
<text x="1075.407" y="366" text-anchor="middle" font-size="14.2" fill="#808080" textLength="10.5" lengthAdjust="spacingAndGlyphs">O</text>
<text x="1090.229" y="381" text-anchor="middle" font-size="14.2" fill="#000" textLength="7.5" lengthAdjust="spacingAndGlyphs" stroke="#000" stroke-width="0.12">E</text>
<text x="1091.407" y="366" text-anchor="middle" font-size="14.2" fill="#808080" textLength="10.5" lengthAdjust="spacingAndGlyphs">O</text>
<text x="1106.34" y="381" text-anchor="middle" font-size="14.2" fill="#000" textLength="10.684" lengthAdjust="spacingAndGlyphs" stroke="#000" stroke-width="0.12">D</text>
<text x="1107.407" y="366" text-anchor="middle" font-size="14.2" fill="#808080" textLength="10.5" lengthAdjust="spacingAndGlyphs">O</text>
<text x="1123.225" y="381" text-anchor="middle" font-size="14.2" fill="#000" textLength="8.475" lengthAdjust="spacingAndGlyphs" stroke="#000" stroke-width="0.12">Y</text>
<text x="1122.407" y="366" text-anchor="middle" font-size="14.2" fill="#808080" textLength="10.5" lengthAdjust="spacingAndGlyphs">O</text>
<text x="1138.23" y="381" text-anchor="middle" font-size="14.2" fill="#000" textLength="8.475" lengthAdjust="spacingAndGlyphs" stroke="#000" stroke-width="0.12">Y</text>
<text x="1138.407" y="366" text-anchor="middle" font-size="14.2" fill="#808080" textLength="10.5" lengthAdjust="spacingAndGlyphs">O</text>
<text x="1153.985" y="381" text-anchor="middle" font-size="14.2" fill="#000" textLength="9.641" lengthAdjust="spacingAndGlyphs" stroke="#000" stroke-width="0.12">R</text>
<text x="1154.407" y="366" text-anchor="middle" font-size="14.2" fill="#808080" textLength="10.5" lengthAdjust="spacingAndGlyphs">O</text>
<text x="1169.74" y="381" text-anchor="middle" font-size="14.2" fill="#000" textLength="9.492" lengthAdjust="spacingAndGlyphs" stroke="#000" stroke-width="0.12">V</text>
<text x="1170.407" y="366" text-anchor="middle" font-size="14.2" fill="#808080" textLength="10.5" lengthAdjust="spacingAndGlyphs">O</text>
</svg></body></html>
